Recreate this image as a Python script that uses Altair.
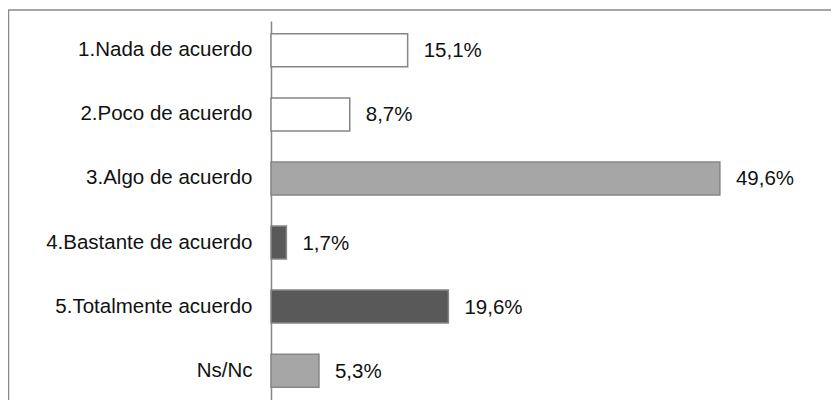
import altair as alt
import pandas as pd

categorias = [
    "1.Nada de acuerdo",
    "2.Poco de acuerdo",
    "3.Algo de acuerdo",
    "4.Bastante de acuerdo",
    "5.Totalmente acuerdo",
    "Ns/Nc",
]
valores = [15.1, 8.7, 49.6, 1.7, 19.6, 5.3]
etiquetas = ["15,1%", "8,7%", "49,6%", "1,7%", "19,6%", "5,3%"]
colores = ["#ffffff", "#ffffff", "#a6a6a6", "#595959", "#595959", "#a6a6a6"]

df = pd.DataFrame({"categoria": categorias, "valor": valores, "etiqueta": etiquetas})
FONT = "Liberation Sans"

y_enc = alt.Y(
    "categoria:N",
    sort=categorias,
    title=None,
    scale=alt.Scale(paddingInner=0.485, paddingOuter=0.2),
    axis=alt.Axis(
        ticks=False,
        tickSize=0,
        grid=False,
        labelPadding=19,
        labelFont=FONT,
        labelFontSize=20.5,
        labelColor="#111111",
        domainColor="#868686",
        domainWidth=1.5,
        labelLimit=400,
    ),
)
x_enc = alt.X("valor:Q", scale=alt.Scale(domain=[0, 60]), axis=None)

frame = alt.Chart(pd.DataFrame({"a": [0]})).mark_rect(
    fill=None, stroke="#8a8a8a", strokeWidth=1.5
).encode(
    x=alt.value(-262.5), x2=alt.value(700), y=alt.value(-11), y2=alt.value(500)
)

bars = alt.Chart(df).mark_bar(stroke="#868686", strokeWidth=1.5).encode(
    y=y_enc,
    x=x_enc,
    fill=alt.Fill("categoria:N", scale=alt.Scale(domain=categorias, range=colores), legend=None),
)

text = alt.Chart(df).mark_text(
    align="left", baseline="middle", dx=16, dy=1, font=FONT, fontSize=20.5, color="#111111"
).encode(y=alt.Y("categoria:N", sort=categorias), x=alt.X("valor:Q"), text="etiqueta:N")

chart = (
    alt.layer(frame, bars, text)
    .properties(
        width=543,
        height=379,
        autosize=alt.AutoSizeParams(type="none"),
        padding={"left": 263, "top": 13, "right": 17, "bottom": 0},
    )
    .configure_view(strokeWidth=0)
)

chart.save("out.html", embed_options={"renderer": "svg", "actions": False})
